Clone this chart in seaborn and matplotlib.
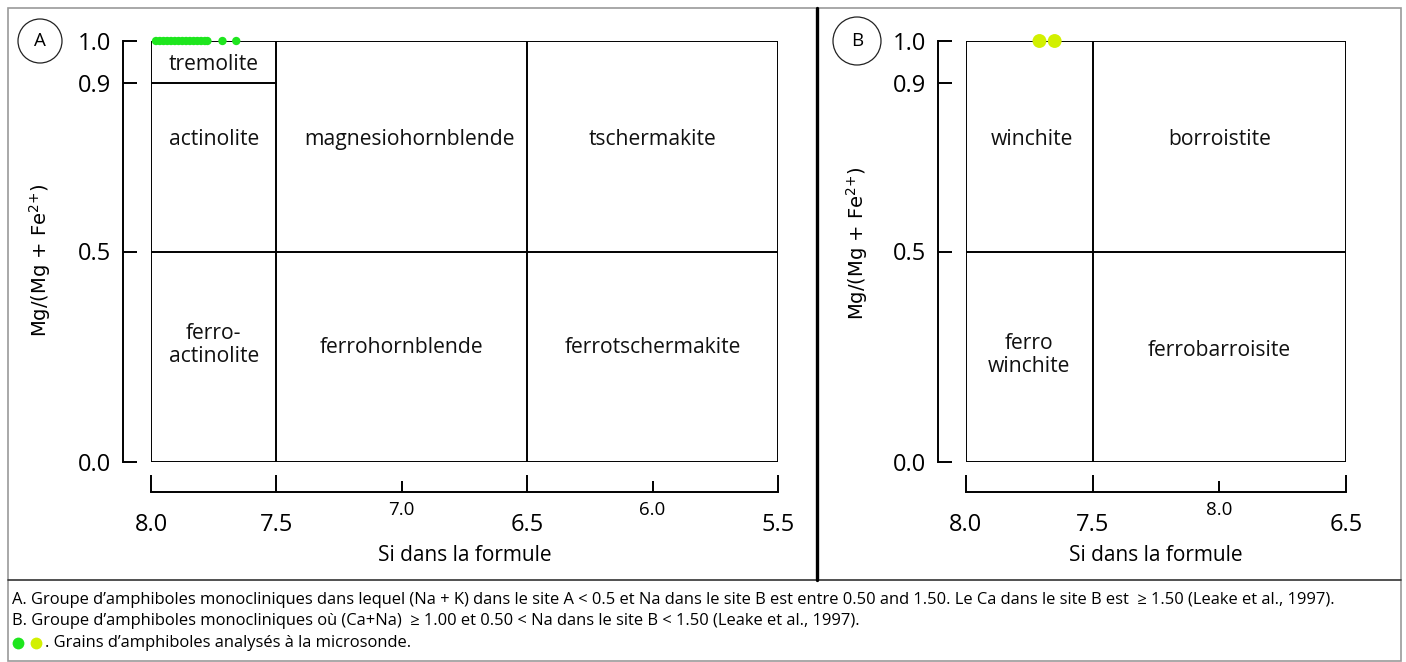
import matplotlib
matplotlib.use("Agg")
import matplotlib.pyplot as plt
import seaborn as sns
import pandas as pd
from matplotlib.patches import Circle, Rectangle
from matplotlib.lines import Line2D

sns.set_theme(style="ticks")
plt.rcParams["font.family"] = ["Open Sans", "DejaVu Sans"]

# ---------------- data ----------------
si_a = [7.98, 7.965, 7.95, 7.935, 7.92, 7.905, 7.89, 7.875, 7.86, 7.845,
        7.83, 7.815, 7.80, 7.785, 7.775, 7.715, 7.66]
mg_a = [1.0] * len(si_a)
si_b = [7.71, 7.65]
mg_b = [1.0, 1.0]

green_a = "#1ee61e"
green_b = "#d2f000"

y_ticks = [0.0, 0.5, 0.9, 1.0]
y_tick_labels = ["0.0", "0.5", "0.9", "1.0"]

a_xlim = (8.0, 5.5)
a_major = [8.0, 7.5, 6.5, 5.5]
a_major_labels = ["8.0", "7.5", "6.5", "5.5"]
a_minor = [7.0, 6.0]
a_minor_labels = ["7.0", "6.0"]
a_vlines = [7.5, 6.5]
a_hlines = [(0.9, 8.0, 7.5), (0.5, 8.0, 5.5)]
a_fields = [("tremolite", 7.75, 0.945), ("actinolite", 7.75, 0.767),
            ("magnesiohornblende", 6.97, 0.767), ("tschermakite", 6.0, 0.767),
            ("ferro-\nactinolite", 7.75, 0.278), ("ferrohornblende", 7.0, 0.271),
            ("ferrotschermakite", 6.0, 0.271)]

b_xlim = (8.0, 6.5)
b_major = [8.0, 7.5, 6.5]
b_major_labels = ["8.0", "7.5", "6.5"]
b_minor = [7.0]
b_minor_labels = ["8.0"]
b_vlines = [7.5]
b_hlines = [(0.5, 8.0, 6.5)]
b_fields = [("winchite", 7.74, 0.767), ("borroistite", 7.0, 0.767),
            ("ferro\nwinchite", 7.75, 0.254), ("ferrobarroisite", 7.0, 0.264)]

caption_a = ("A. Groupe d\u2019amphiboles monocliniques dans lequel (Na + K) dans le site A < 0.5 "
             "et Na dans le site B est entre 0.50 and 1.50. Le Ca dans le site B est  \u2265 1.50 "
             "(Leake et al., 1997).")
caption_b = ("B. Groupe d\u2019amphiboles monocliniques o\u00f9 (Ca+Na)  \u2265 1.00 et 0.50 < Na "
             "dans le site B < 1.50 (Leake et al., 1997).")
caption_c = ". Grains d\u2019amphiboles analys\u00e9s \u00e0 la microsonde."

# ---------------- figure ----------------
W, H = 1406, 662
fig = plt.figure(figsize=(W / 100, H / 100), dpi=100)
fig.patch.set_facecolor("white")
PX = 72 / 100  # points per pixel


def fx(px):
    return px / W


def fy(py):
    return 1 - py / H


LW = 1.4


def panel(left, right, xlim, major, major_labels, minor, minor_labels,
          vlines, hlines, fields, si, mg, color, size, label_right, label_cy):
    top, bottom = 41, 462
    ax = fig.add_axes([fx(left), fy(bottom), (right - left) / W, (bottom - top) / H])
    ax.set_facecolor("none")
    ax.set_xlim(*xlim)
    ax.set_ylim(0, 1)
    # outer box and field boundaries
    ax.plot([xlim[0], xlim[1], xlim[1], xlim[0], xlim[0]], [0, 0, 1, 1, 0],
            color="black", lw=LW, solid_joinstyle="miter", zorder=2)
    for v in vlines:
        ax.plot([v, v], [0, 1], color="black", lw=LW, zorder=2)
    for yv, x0, x1 in hlines:
        ax.plot([x0, x1], [yv, yv], color="black", lw=LW, zorder=2)
    for txt, xv, yv in fields:
        ax.text(xv, yv, txt, ha="center", va="center", fontsize=15.2,
                linespacing=1.12, color="#111111")
    df = pd.DataFrame({"Si": si, "Mg": mg})
    sns.scatterplot(data=df, x="Si", y="Mg", color=color, s=size,
                    edgecolor="none", ax=ax, clip_on=False, zorder=5, legend=False)
    # bracket axes
    for s in ["top", "right"]:
        ax.spines[s].set_visible(False)
    ax.spines["left"].set_position(("outward", 28 * PX))
    ax.spines["left"].set_bounds(0, 1)
    ax.spines["bottom"].set_position(("outward", 30 * PX))
    ax.spines["bottom"].set_bounds(xlim[0], xlim[1])
    for s in ["left", "bottom"]:
        ax.spines[s].set_linewidth(LW)
        ax.spines[s].set_color("black")
    ax.set_yticks(y_ticks)
    ax.set_yticklabels(y_tick_labels)
    ax.set_xticks(major)
    ax.set_xticklabels(major_labels)
    ax.set_xticks(minor, minor=True)
    ax.set_xticklabels(minor_labels, minor=True)
    ax.tick_params(axis="y", direction="in", length=14 * PX, width=LW, pad=12 * PX,
                   labelsize=17, color="black", labelcolor="black")
    ax.tick_params(axis="x", which="major", direction="in", length=17 * PX, width=LW,
                   pad=21 * PX, labelsize=17, color="black", labelcolor="black")
    ax.tick_params(axis="x", which="minor", direction="in", length=11 * PX, width=LW,
                   pad=9 * PX, labelsize=13.5, color="black", labelcolor="black")
    ax.set_xlabel("Si dans la formule", fontsize=15, color="black")
    ax.xaxis.set_label_coords(0.5, -0.197)
    ax.set_ylabel(r"Mg/(Mg + Fe$^{2{+}}$)", fontsize=14, color="black",
                  family="DejaVu Sans")
    ax.yaxis.set_label_coords((label_right - left) / (right - left),
                              (bottom - label_cy) / (bottom - top))
    return ax


axA = panel(151, 778, a_xlim, a_major, a_major_labels, a_minor, a_minor_labels,
            a_vlines, a_hlines, a_fields, si_a, mg_a, green_a, 36, 53, 260)
axB = panel(966, 1346, b_xlim, b_major, b_major_labels, b_minor, b_minor_labels,
            b_vlines, b_hlines, b_fields, si_b, mg_b, green_b, 100, 870, 243)

# ---------------- frame ----------------
fig.add_artist(Rectangle((fx(8), fy(661)), fx(1401) - fx(8), fy(8) - fy(661),
                         transform=fig.transFigure, fill=False, ec="#9a9a9a", lw=1.2))
fig.add_artist(Line2D([fx(8), fx(1401)], [fy(580), fy(580)], transform=fig.transFigure,
                      color="#333333", lw=1.2))
fig.add_artist(Line2D([fx(817), fx(817)], [fy(8), fy(580)], transform=fig.transFigure,
                      color="black", lw=2.4))

# circled panel letters
for letter, cx, cy, r in [("A", 40, 41, 22), ("B", 857, 41, 24)]:
    fig.add_artist(Circle((cx / 100, (H - cy) / 100), r / 100, transform=fig.dpi_scale_trans,
                          fill=False, ec="#222222", lw=0.9))
    fig.text(fx(cx), fy(cy), letter, ha="center", va="center", fontsize=13.5, color="black")

# captions
CAP = 11.85
fig.text(fx(12), fy(600), caption_a, ha="left", va="center", fontsize=CAP, color="black")
fig.text(fx(12), fy(621), caption_b, ha="left", va="center", fontsize=CAP, color="black")
for c, xx in [(green_a, 18), (green_b, 36)]:
    fig.add_artist(Line2D([fx(xx)], [fy(643)], transform=fig.transFigure, marker="o",
                          markersize=8.5, color=c, markeredgewidth=0, linestyle="none"))
fig.text(fx(45), fy(643), caption_c, ha="left", va="center", fontsize=CAP, color="black")

fig.savefig("out.png", dpi=100, facecolor="white")
